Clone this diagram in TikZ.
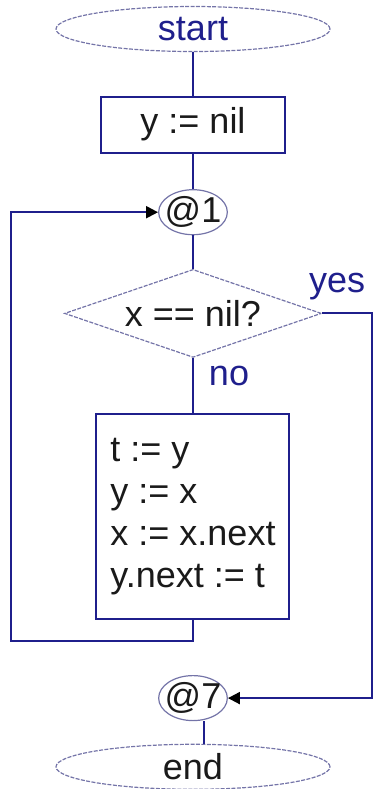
\documentclass[tikz,border=0pt]{standalone}
\usepackage{fontspec}
\setmainfont{Liberation Sans}
\usetikzlibrary{arrows.meta,positioning,shapes.geometric,calc}
\definecolor{navy}{HTML}{1F1F8C}
\definecolor{rim}{HTML}{7474A8}
\definecolor{ink}{HTML}{1A1A1A}

\begin{document}
\begin{tikzpicture}[
  font=\fontsize{18}{21}\selectfont,
  terminal/.style={ellipse, minimum width=137pt, minimum height=22.5pt, inner sep=0pt, draw=rim, line width=0.6pt, dash pattern=on 2pt off 0.7pt},
  label/.style={ellipse, minimum width=34pt, minimum height=22.5pt, inner xsep=-2pt, inner ysep=-1pt, draw=rim, line width=0.6pt, text=ink},
  process/.style={rectangle, draw=navy, line width=1pt, text=ink, inner sep=0pt},
  decision/.style={diamond, minimum width=128.5pt, minimum height=44pt, inner sep=0pt, aspect=2.9, draw=rim, line width=0.6pt, dash pattern=on 2pt off 0.7pt, text=ink},
  line/.style={draw=navy, line width=1pt},
  arr/.style={line, -{Triangle[length=6pt, width=6pt, color=black]}},
  lbl/.style={text=navy, inner sep=1pt},
]
\useasboundingbox (-96.5pt,14.5pt) rectangle (89.5pt,-380pt);

\node[terminal, text=navy] (start) at (0,0) {start};
\node[process, minimum width=92pt, minimum height=28pt, below=21.75pt of start] (init) {y := nil};
\node[label, below=17.75pt of init] (at1) {@1};
\node[decision, below=16.75pt of at1] (test) {x == nil?};
\node[process, minimum width=96.5pt, minimum height=102.5pt, align=left, below=27.5pt of test] (body) {t := y\\y := x\\x := x.next\\y.next := t};
\node[label, below=27.5pt of body] (at7) {@7};
\node[terminal, text=ink, below=11.25pt of at7] (end) {end};

\coordinate[left=73.5pt of at1.west] (back);
\coordinate[right=25pt of test.east] (exit);

\draw[line] (start) -- (init);
\draw[line] (init) -- (at1);
\draw[line] (at1) -- (test);
\draw[line] (test) -- node[lbl, right=6.5pt, pos=0.33] {no} (body);
\draw[arr] (body.south) -- ++(0,-10.5pt) -| (back) -- (at1);
\draw[arr] (test.east) -- node[lbl, above=5pt, pos=0.3] {yes} (exit) |- (at7);
\draw[line] ([xshift=5.5pt]at7.south) -- ([xshift=5.5pt]at7.south |- end.north);

\end{tikzpicture}
\end{document}
